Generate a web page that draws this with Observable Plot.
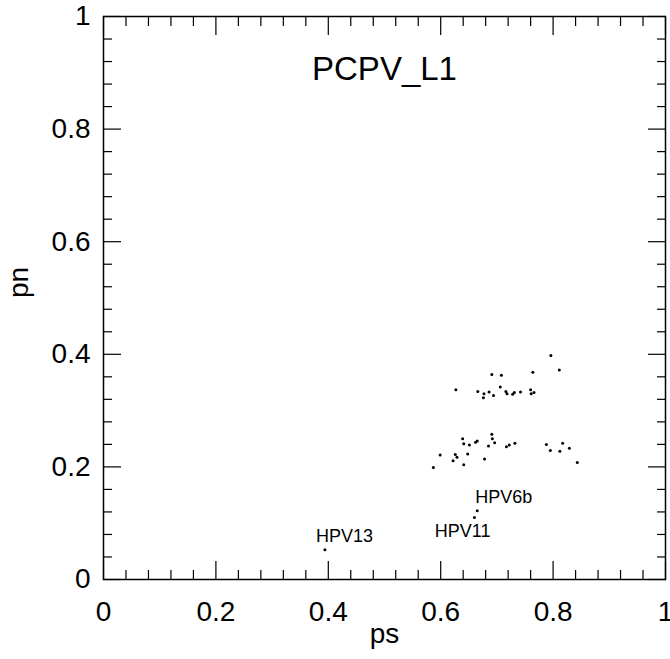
<!DOCTYPE html>
<html>
<head>
<meta charset="utf-8">
<script src="https://cdn.jsdelivr.net/npm/d3@7"></script>
<script src="https://cdn.jsdelivr.net/npm/@observablehq/plot@0.6"></script>
<style>
  html, body { margin: 0; padding: 0; background: white; }
</style>
</head>
<body>
<div id="chart"></div>
<script>
// Data
const title = "PCPV_L1";
const xLabel = "ps";
const yLabel = "pn";

const psValues = [
  0.691, 0.708, 0.627, 0.706, 0.666, 0.686, 0.677, 0.676, 0.694, 0.716,
  0.718, 0.728, 0.731, 0.742, 0.796, 0.811, 0.764, 0.760, 0.761, 0.766,
  0.639, 0.691, 0.692, 0.641, 0.651, 0.662, 0.665, 0.696, 0.685, 0.717,
  0.722, 0.732, 0.599, 0.626, 0.629, 0.648, 0.622, 0.678, 0.641, 0.587,
  0.788, 0.817, 0.795, 0.812, 0.829, 0.843
];
const pnValues = [
  0.364, 0.363, 0.337, 0.342, 0.334, 0.333, 0.330, 0.323, 0.327, 0.334,
  0.330, 0.329, 0.332, 0.333, 0.398, 0.372, 0.368, 0.337, 0.330, 0.332,
  0.250, 0.258, 0.250, 0.241, 0.239, 0.244, 0.246, 0.243, 0.237, 0.236,
  0.239, 0.242, 0.221, 0.222, 0.217, 0.223, 0.211, 0.214, 0.204, 0.199,
  0.240, 0.242, 0.229, 0.228, 0.233, 0.208
];

const labelNames = ["HPV6b", "HPV11", "HPV13"];
const labelPs = [0.665, 0.660, 0.394];
const labelPn = [0.122, 0.110, 0.053];

const majorTicks = [0, 0.2, 0.4, 0.6, 0.8, 1];
const minorTicks = [0.04, 0.08, 0.12, 0.16, 0.24, 0.28, 0.32, 0.36, 0.44, 0.48, 0.52, 0.56,
                    0.64, 0.68, 0.72, 0.76, 0.84, 0.88, 0.92, 0.96];

const points = psValues.map((ps, i) => ({ps, pn: pnValues[i]}));
const labeled = labelNames.map((name, i) => ({name, ps: labelPs[i], pn: labelPn[i]}));
const allPoints = points.concat(labeled);

const fmt = d3.format("~g");
const font = "'Liberation Sans', Arial, Helvetica, sans-serif";

const chart = Plot.plot({
  width: 670,
  height: 659,
  marginLeft: 103,
  marginRight: 5,
  marginTop: 16,
  marginBottom: 80,
  x: {domain: [0, 1], label: null},
  y: {domain: [0, 1], label: null},
  style: {fontFamily: font, color: "black", background: "white"},
  marks: [
    // bottom axis
    Plot.axisX(majorTicks, {anchor: "bottom", tickSize: -18, tickPadding: 40, tickFormat: fmt, fontSize: 28, label: null, strokeWidth: 1.2}),
    Plot.axisX(minorTicks, {anchor: "bottom", tickSize: -9, tickFormat: () => "", label: null, strokeWidth: 1.2}),
    // top axis
    Plot.axisX(majorTicks, {anchor: "top", tickSize: -18, tickFormat: () => "", label: null, strokeWidth: 1.2}),
    Plot.axisX(minorTicks, {anchor: "top", tickSize: -9, tickFormat: () => "", label: null, strokeWidth: 1.2}),
    // left axis
    Plot.axisY(majorTicks, {anchor: "left", tickSize: -18, tickPadding: 31, tickFormat: fmt, fontSize: 28, label: null, strokeWidth: 1.2}),
    Plot.axisY(minorTicks, {anchor: "left", tickSize: -9, tickFormat: () => "", label: null, strokeWidth: 1.2}),
    // right axis
    Plot.axisY(majorTicks, {anchor: "right", tickSize: -18, tickFormat: () => "", label: null, strokeWidth: 1.2}),
    Plot.axisY(minorTicks, {anchor: "right", tickSize: -9, tickFormat: () => "", label: null, strokeWidth: 1.2}),
    Plot.frame({stroke: "black", strokeWidth: 1.5}),
    // points
    Plot.dot(allPoints, {x: "ps", y: "pn", r: 1.5, fill: "black", stroke: "none"}),
    // point labels
    Plot.text(labeled.filter(d => d.name === "HPV6b"), {x: "ps", y: "pn", text: "name", textAnchor: "start", dx: -2, dy: -14, fontSize: 18}),
    Plot.text(labeled.filter(d => d.name === "HPV11"), {x: "ps", y: "pn", text: "name", textAnchor: "end", dx: 16, dy: 14, fontSize: 18}),
    Plot.text(labeled.filter(d => d.name === "HPV13"), {x: "ps", y: "pn", text: "name", textAnchor: "start", dx: -9, dy: -13, fontSize: 18}),
    // title inside frame
    Plot.text([title], {text: d => d, frameAnchor: "top", dy: 40, fontSize: 33}),
    // axis labels
    Plot.text([xLabel], {text: d => d, frameAnchor: "bottom", dy: 63, fontSize: 28}),
    Plot.text([yLabel], {text: d => d, frameAnchor: "left", dx: -84, rotate: -90, fontSize: 28})
  ]
});

document.getElementById("chart").appendChild(chart);
</script>
</body>
</html>
